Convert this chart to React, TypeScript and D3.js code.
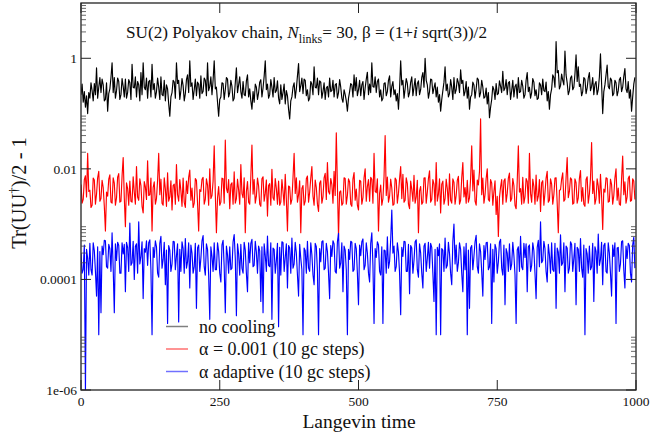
import React from 'react';
import * as d3 from 'd3';

// Langevin time between samples
const timeStep = 2;

// no cooling: Tr(UU†)/2 - 1
const noCooling = [
0.22,0.34,0.16,0.25,0.13,0.21,0.10,0.24,0.19,0.36,0.26,0.17,0.35,0.22,0.67,0.19,0.30,0.45,0.24,0.42,
0.33,0.17,0.18,0.36,0.11,0.23,0.28,0.45,0.83,0.24,0.45,0.19,0.26,0.44,0.38,0.18,0.22,0.43,0.31,0.20,
0.42,0.19,0.24,0.41,0.36,0.18,0.78,0.30,0.29,0.46,0.20,0.38,0.33,0.17,0.55,0.22,0.83,0.30,0.27,0.44,
0.19,0.38,0.40,0.20,0.78,0.27,0.35,0.19,0.25,0.44,0.30,0.18,0.46,0.22,0.21,0.40,0.17,0.33,0.28,0.15,
0.09,0.20,0.24,0.40,0.37,0.19,0.83,0.35,0.40,0.18,0.26,0.43,0.32,0.17,0.23,0.41,0.50,0.24,0.90,0.31,
0.36,0.18,0.27,0.42,0.21,0.37,0.34,0.19,0.48,0.23,0.25,0.44,0.40,0.21,0.83,0.26,0.31,0.46,0.22,0.40,
0.90,0.28,0.30,0.16,0.09,0.18,0.20,0.36,0.35,0.18,0.27,0.45,0.42,0.20,0.24,0.40,0.31,0.17,0.19,0.36,
0.67,0.24,0.33,0.46,0.25,0.19,0.38,0.22,0.21,0.39,0.50,0.20,0.28,0.17,0.12,0.25,0.16,0.34,0.30,0.18,
0.24,0.37,0.41,0.20,0.29,0.47,0.90,0.27,0.34,0.19,0.22,0.41,0.30,0.20,0.45,0.24,0.26,0.39,0.19,0.15,
0.33,0.18,0.24,0.34,0.15,0.26,0.21,0.12,0.08,0.17,0.20,0.30,0.36,0.19,0.28,0.48,0.80,0.25,0.32,0.44,
0.23,0.42,0.40,0.21,0.27,0.17,0.19,0.38,0.34,0.22,0.70,0.30,0.29,0.44,0.22,0.39,0.37,0.19,0.25,0.36,
0.18,0.29,0.31,0.20,0.44,0.25,0.26,0.40,0.20,0.33,0.35,0.19,0.24,0.41,0.30,0.19,0.16,0.27,0.22,0.17,
0.11,0.19,0.25,0.35,0.33,0.20,0.50,0.26,0.45,0.21,0.27,0.40,0.21,0.33,0.38,0.18,0.29,0.42,0.56,0.22,
0.34,0.24,0.83,0.31,0.30,0.46,0.24,0.38,0.42,0.20,0.27,0.17,0.19,0.35,0.36,0.21,0.25,0.40,0.48,0.20,
0.31,0.38,0.22,0.27,0.17,0.23,0.12,0.28,0.90,0.33,0.40,0.19,0.28,0.43,0.35,0.20,0.24,0.37,0.46,0.21,
0.30,0.43,0.21,0.35,0.39,0.22,0.27,0.45,0.55,0.30,1.00,0.40,0.33,0.19,0.25,0.42,0.41,0.23,0.29,0.36,
0.20,0.30,0.16,0.22,0.11,0.18,0.26,0.37,0.70,0.26,0.34,0.20,0.23,0.41,0.30,0.18,0.45,0.23,0.27,0.43,
0.36,0.24,0.62,0.35,0.40,0.21,0.25,0.38,0.19,0.30,0.12,0.20,0.22,0.37,0.33,0.19,0.28,0.44,0.41,0.20,
0.24,0.40,0.30,0.19,0.20,0.29,0.15,0.24,0.084,0.13,0.18,0.31,0.27,0.18,0.35,0.22,0.23,0.39,0.31,0.24,
0.58,0.26,0.29,0.41,0.22,0.36,0.38,0.18,0.26,0.40,0.20,0.31,0.34,0.19,0.45,0.24,0.25,0.40,0.31,0.19,
0.22,0.40,0.55,0.25,0.30,0.19,0.24,0.43,0.37,0.21,0.27,0.18,0.19,0.36,0.33,0.22,0.42,0.26,0.25,0.37,
0.17,0.25,0.12,0.22,0.28,0.50,0.45,0.30,2.0,0.55,0.60,0.28,0.32,0.52,0.40,0.33,1.35,0.50,0.36,0.22,
0.26,0.44,0.48,0.27,0.30,0.52,1.15,0.38,0.70,0.31,0.34,0.21,0.25,0.45,0.42,0.23,0.29,0.44,0.55,0.26,
0.31,0.45,0.22,0.34,0.38,0.22,0.27,0.46,1.20,0.35,0.10,0.25,0.33,0.50,0.75,0.31,0.28,0.44,0.40,0.21,
0.23,0.40,0.36,0.21,0.26,0.41,0.45,0.25,0.30,0.47,0.65,0.28,0.24,0.38,0.19,0.27,0.11,0.20,0.34,0.45
];

// α = 0.001 (10 gc steps), values in units of 1e-3
const alphaFixedE3 = [
5.2,2.4,2.8,6.4,7.5,3.1,19,3.9,4.1,2.0,2.2,6.8,6.3,2.3,3.5,6.9,9.0,2.6,2.9,6.2,
4.6,2.1,0.75,3.8,3.2,6.5,7.8,2.5,2.4,6.9,5.5,2.2,3.0,7.1,8.2,2.5,2.6,7.4,16,3.0,
0.9,5.6,4.4,2.2,6.0,2.6,2.5,7.2,3.8,2.3,11,3.1,2.7,6.6,5.0,2.1,1.6,5.9,4.7,2.8,
14,3.3,3.4,6.8,0.75,4.6,5.8,2.3,2.9,6.2,19,3.4,6.5,2.4,2.2,6.9,4.3,2.1,8.5,2.6,
3.1,6.1,1.8,5.0,5.3,2.3,12,3.4,2.6,6.4,4.0,2.1,6.8,2.5,2.0,6.0,3.6,7.0,9.5,2.7,
4.5,2.0,2.4,6.7,6.2,2.4,0.75,4.2,3.9,6.5,7.0,2.3,2.8,6.6,5.1,2.2,10,2.9,3.3,6.0,
26,3.5,0.7,3.0,4.8,2.2,2.5,6.8,6.6,2.4,33,4.5,3.7,6.4,1.9,5.2,5.6,2.3,8.8,2.4,
2.9,6.5,4.2,2.3,12,3.6,3.0,6.9,0.7,3.9,5.9,2.5,2.3,7.3,27,3.5,6.4,2.4,3.2,6.8,
4.9,2.3,2.1,6.6,7.2,2.6,3.6,6.3,1.4,5.0,5.4,2.2,9.8,3.0,2.7,6.7,4.4,2.3,6.0,2.2,
2.5,6.4,3.9,2.2,8.0,2.8,0.75,4.9,4.7,2.3,2.8,7.0,19,3.6,6.9,2.5,3.4,6.1,0.7,4.4,
5.0,2.2,2.6,6.6,7.4,2.5,3.8,6.8,11,3.2,2.2,6.3,4.6,2.3,1.7,5.5,6.1,2.4,3.1,6.9,
8.3,2.8,13,3.9,3.5,6.7,5.2,2.4,9.0,3.3,45,4.9,0.6,3.8,4.0,2.2,2.4,6.9,6.7,2.3,
3.3,6.6,5.8,2.3,2.1,6.5,8.6,2.7,4.3,2.2,1.8,6.2,6.0,2.3,3.0,6.9,10,2.6,4.8,6.4,
2.6,7.0,6.5,2.4,19,3.9,3.7,6.6,0.75,3.6,5.1,2.2,2.9,7.2,40,3.3,7.1,2.5,3.2,6.5,
4.5,2.2,2.3,6.8,6.3,2.4,3.6,6.6,11,2.9,8.0,2.5,2.7,6.9,5.4,2.3,1.9,6.0,4.2,2.6,
7.6,2.4,3.1,6.2,0.7,4.0,4.8,2.3,2.5,6.8,6.9,2.4,3.8,6.7,9.2,2.5,2.8,6.4,5.3,2.2,
13,2.6,3.5,6.6,1.6,5.3,6.0,2.3,2.9,6.5,4.4,2.2,8.1,2.7,2.4,6.6,5.7,2.3,3.3,6.2,
7.3,2.3,2.7,6.9,13,3.1,4.6,2.4,6.2,2.5,3.0,6.7,26,4.0,9.5,2.6,2.2,6.3,5.1,9.0,
80,3.4,6.8,2.4,3.4,6.7,10,2.8,2.6,6.4,5.5,2.2,3.9,6.1,1.5,3.2,0.6,3.0,4.7,6.4,
2.3,6.0,6.6,2.5,3.6,6.8,8.4,2.6,2.9,6.7,5.0,2.2,1.9,6.0,26,3.8,4.4,2.3,7.0,2.4,
3.1,6.7,5.9,2.4,19,3.6,2.5,6.5,4.8,2.3,7.7,2.6,3.2,6.4,1.7,5.6,6.1,2.2,3.7,6.8,
9.0,2.5,2.7,6.6,5.3,2.3,3.4,6.8,6.9,2.4,0.7,4.1,4.2,6.5,8.5,2.6,2.8,6.9,16,3.0,
3.9,6.9,6.4,2.3,2.4,6.6,5.6,2.4,3.0,6.7,9.3,2.6,4.6,2.3,2.1,6.4,7.2,2.4,3.5,6.8,
30,3.6,6.0,2.3,2.9,6.6,4.9,2.4,8.0,3.2,0.8,4.3,3.8,6.9,6.7,2.5,2.6,6.5,5.2,2.3,
3.3,6.8,10,2.7,4.5,2.3,2.2,6.5,17,3.4,5.8,2.4,3.1,6.7,7.4,2.6,2.7,6.6,6.0,2.8
];

// α adaptive (10 gc steps), values in units of 1e-4
const alphaAdaptiveE4 = [
3.0,1.3,1.5,4.2,0.01,3.5,2.4,1.2,4.5,1.5,1.2,4.6,3.3,1.4,0.5,3.9,0.1,3.2,0.25,4.0,
2.8,5.1,5.0,1.7,1.6,4.3,3.6,1.4,7.0,1.6,0.25,4.4,2.2,4.7,4.1,1.3,1.3,4.6,2.9,4.3,
0.6,4.7,3.8,1.4,10.5,1.8,2.0,4.9,1.0,4.0,4.4,1.3,11,1.9,2.6,4.8,0.45,3.6,3.1,5.0,
1.8,4.6,5.2,1.5,0.1,3.8,2.5,5.0,3.9,1.3,1.1,4.5,6.0,1.6,2.3,4.7,0.8,3.4,0.16,4.1,
3.4,1.4,1.9,4.9,4.8,1.5,2.7,4.4,0.17,3.5,1.4,4.8,3.6,1.3,5.5,1.6,2.1,4.6,0.7,4.2,
3.0,1.3,1.7,4.5,0.3,3.7,4.2,1.4,2.4,5.0,6.2,1.7,1.2,4.4,3.5,1.2,0.19,3.9,2.6,1.4,
4.6,1.5,1.5,4.6,3.2,1.3,0.9,4.2,5.1,1.7,0.25,4.0,2.8,1.3,3.9,1.5,1.6,4.8,6.5,2.4,
0.22,4.4,2.9,1.2,4.3,1.6,1.3,4.7,3.4,1.3,0.6,4.6,2.0,4.5,5.3,1.7,1.8,4.9,3.1,1.3,
4.0,3.3,0.4,3.9,0.25,4.4,2.7,1.4,6.1,1.8,1.7,4.6,0.19,3.7,3.5,1.3,2.2,4.5,0.14,3.8,
1.2,4.8,4.6,1.4,2.5,4.4,0.7,4.1,3.7,1.3,5.6,1.6,1.9,4.7,3.0,1.2,0.5,4.3,2.4,1.5,
0.1,3.7,3.3,1.3,4.9,1.6,1.4,4.6,2.8,1.2,0.8,4.5,3.9,1.4,0.1,3.6,2.1,4.8,5.0,1.5,
1.6,4.5,3.2,1.3,0.45,4.1,2.6,5.0,4.4,1.4,1.3,4.8,6.8,1.6,2.0,4.6,0.6,4.0,3.4,1.5,
0.1,3.5,2.3,4.9,4.7,1.4,1.5,4.5,3.6,1.3,0.35,4.2,2.7,4.8,5.4,1.5,1.8,4.6,3.0,1.3,
0.9,4.5,7.0,1.8,0.16,3.6,2.5,4.8,4.2,1.4,1.2,3.9,0.16,3.4,3.3,1.3,5.9,1.6,2.1,5.2,
18,3.0,4.0,1.4,1.7,4.6,3.1,1.3,0.23,3.8,2.6,4.9,4.8,1.4,1.4,4.3,0.55,4.1,3.7,1.3,
2.2,4.8,5.2,1.5,1.1,4.4,3.0,1.3,0.7,4.0,4.5,1.4,2.4,4.7,1.6,4.5,3.8,1.3,0.4,3.5,
0.1,3.8,2.7,4.4,0.1,3.6,3.4,1.4,5.6,1.6,1.8,4.7,2.9,1.3,0.8,4.9,10,1.9,4.2,1.4,
2.0,4.6,3.5,1.3,0.6,3.9,1.5,4.5,0.1,3.4,0.3,3.7,4.1,1.5,2.6,4.8,6.3,1.7,1.3,4.4,
3.2,1.4,0.5,4.1,2.3,4.6,4.7,1.5,1.7,4.4,0.16,3.5,0.9,4.3,3.6,1.3,2.1,4.7,5.3,1.6,
1.2,4.2,0.35,3.6,3.0,1.4,4.4,1.5,1.9,4.7,2.7,1.2,0.16,3.4,3.9,1.4,6.0,1.7,1.5,4.5,
2.5,4.4,0.6,3.9,4.2,1.4,1.8,4.6,3.3,1.3,0.45,3.8,5.1,1.7,11,2.0,2.2,4.9,3.6,1.4,
0.9,4.3,2.8,1.3,4.6,1.5,1.4,4.5,0.3,3.7,3.1,1.3,6.4,1.8,2.0,4.6,0.6,4.0,3.7,1.3,
1.6,4.8,4.3,1.4,2.4,4.5,0.35,3.8,3.5,1.4,5.5,1.6,1.1,4.2,0.1,3.6,2.9,1.3,4.0,1.5,
1.7,4.5,0.4,3.9,3.2,1.3,6.6,1.8,2.3,4.7,0.8,4.1,4.5,1.4,1.3,4.6,3.0,1.3,0.5,4.2,
2.6,4.6,0.16,3.7,3.8,1.4,1.9,4.8,5.0,1.5,0.7,4.0,2.4,4.5,4.1,1.3,0.9,4.2,5.8,1.6
];

const alphaFixed = alphaFixedE3.map(v => v * 1e-3);
const alphaAdaptive = alphaAdaptiveE4.map(v => v * 1e-4);

const seriesList = [noCooling, alphaFixed, alphaAdaptive];
const seriesColors = ['#000000', '#ff0000', '#0000ff'];
const legendLabels = ['no cooling', 'α = 0.001 (10 gc steps)', 'α adaptive (10 gc steps)'];
const legendColors = ['#808080', '#ff7070', '#7070ff'];

const xTicks = [0, 250, 500, 750, 1000];
const yMajorTicks = [1e-6, 1e-4, 1e-2, 1];
const yTickLabels = ['1e-06', '0.0001', '0.01', '1'];
const minorDecades = [-6, -4, -2, 0];
const minorMultipliers = [2, 3, 4, 5, 6, 7, 8, 9];

const FONT = "'Liberation Serif', 'Times New Roman', Times, serif";

export default function App() {
  const W = 654, H = 435;
  const left = 81, right = 636, top = 3, bottom = 390;
  const x = d3.scaleLinear().domain([0, 1000]).range([left, right]);
  const y = d3.scaleLog().domain([1e-6, 10]).range([bottom, top]);
  const line = d3.line<number>().x((_, i) => x(i * timeStep)).y(d => y(d));

  const minorTicks: number[] = [];
  minorDecades.forEach(m => minorMultipliers.forEach(k => minorTicks.push(k * Math.pow(10, m))));

  const majorLen = 10, minorLen = 5;

  return (
    <svg width={W} height={H} style={{ position: 'absolute', left: 0, top: 0, background: '#fff' }}
      fontFamily={FONT}>
      <rect x={0} y={0} width={W} height={H} fill="#fff" />
      <defs>
        <clipPath id="plotClip">
          <rect x={left} y={top} width={right - left} height={bottom - top} />
        </clipPath>
      </defs>
      <g clipPath="url(#plotClip)">
        {seriesList.map((s, k) => (
          <path key={k} d={line(s) || ''} fill="none" stroke={seriesColors[k]} strokeWidth={1.15} strokeLinejoin="round" />
        ))}
      </g>

      {/* frame */}
      <rect x={left} y={top} width={right - left} height={bottom - top} fill="none" stroke="#222" strokeWidth={1.3} />

      {/* x ticks */}
      {xTicks.map(t => (
        <g key={'x' + t}>
          <line x1={x(t)} x2={x(t)} y1={bottom} y2={bottom - majorLen} stroke="#222" strokeWidth={1} />
          <line x1={x(t)} x2={x(t)} y1={top} y2={top + majorLen} stroke="#222" strokeWidth={1} />
          <text x={x(t)} y={406} fontSize={13.5} textAnchor="middle" fill="#111">{t}</text>
        </g>
      ))}

      {/* y major ticks */}
      {yMajorTicks.map((t, i) => (
        <g key={'y' + t}>
          <line x1={left} x2={left + majorLen} y1={y(t)} y2={y(t)} stroke="#222" strokeWidth={1} />
          <line x1={right} x2={right - majorLen} y1={y(t)} y2={y(t)} stroke="#222" strokeWidth={1} />
          <text x={77} y={y(t)} dy="0.35em" fontSize={13.5} textAnchor="end" fill="#111">{yTickLabels[i]}</text>
        </g>
      ))}
      {/* y minor ticks */}
      {minorTicks.map(t => (
        <g key={'m' + t}>
          <line x1={left} x2={left + minorLen} y1={y(t)} y2={y(t)} stroke="#444" strokeWidth={0.8} />
          <line x1={right} x2={right - minorLen} y1={y(t)} y2={y(t)} stroke="#444" strokeWidth={0.8} />
        </g>
      ))}

      {/* title */}
      <text x={126} y={38} fontSize={17.2} fill="#111">
        SU(2) Polyakov chain, <tspan fontStyle="italic">N</tspan>
        <tspan fontSize={12} dy={5}>links</tspan>
        <tspan dy={-5}>= 30, β = (1+</tspan>
        <tspan fontStyle="italic">i</tspan>
        <tspan> sqrt(3))/2</tspan>
      </text>

      {/* axis titles */}
      <text x={359} y={428} fontSize={19.5} textAnchor="middle" fill="#111">Langevin time</text>
      <text transform="translate(26,193) rotate(-90)" fontSize={20.5} textAnchor="middle" fill="#111">
        Tr(UU<tspan dy={-8} fontSize={13}>†</tspan><tspan dy={8}>)/2 - 1</tspan>
      </text>

      {/* legend */}
      {legendLabels.map((lab, i) => {
        const ly = 326.5 + i * 22.5;
        return (
          <g key={'lg' + i}>
            <line x1={166} x2={188} y1={ly} y2={ly} stroke={legendColors[i]} strokeWidth={1.5} />
            <text x={199} y={ly + 6} fontSize={18} fill="#111">{lab}</text>
          </g>
        );
      })}
    </svg>
  );
}
